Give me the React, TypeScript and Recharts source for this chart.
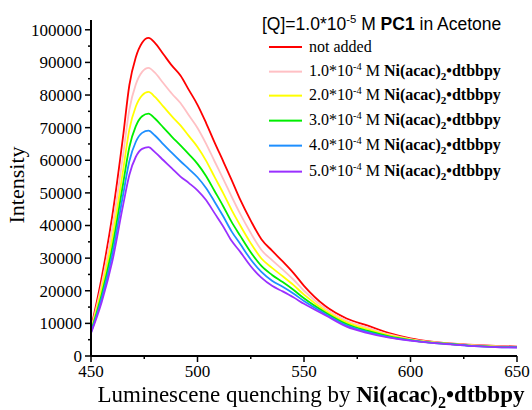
import { LineChart, Line, XAxis, YAxis } from "recharts"

const wavelengths = [450, 455, 460, 465, 468, 471, 474, 477, 480, 484, 488, 492, 496, 500, 504, 508, 512, 516, 520, 525, 530, 535, 540, 545, 550, 560, 570, 580, 590, 600, 610, 620, 630, 640, 650]

const notAdded = [8500, 24000, 43000, 67000, 83000, 91500, 96000, 97500, 96000, 92500, 89000, 86000, 81500, 77000, 71500, 65500, 59800, 54000, 48000, 41500, 35800, 32300, 29000, 25500, 21500, 15300, 11500, 9300, 7000, 5400, 4400, 3800, 3400, 3100, 2900]
const ni10 = [8200, 21950, 39200, 61300, 75500, 83200, 87100, 88350, 86850, 83600, 80400, 77550, 73700, 69900, 65100, 59700, 54400, 48900, 43650, 37700, 32500, 29400, 26500, 23450, 20000, 14550, 10800, 8700, 6600, 5200, 4300, 3700, 3300, 3000, 2800]
const ni20 = [7800, 20300, 36100, 56600, 69400, 76400, 79900, 80950, 79450, 76450, 73450, 70700, 67400, 64100, 59900, 54900, 50000, 44800, 40100, 34600, 29900, 27000, 24450, 21800, 18800, 13900, 10300, 8150, 6300, 5050, 4200, 3650, 3200, 2900, 2750]
const ni30 = [7500, 18800, 33300, 52500, 64000, 70400, 73500, 74300, 72800, 70000, 67200, 64550, 61800, 58900, 55200, 50600, 46000, 41100, 36900, 31800, 27600, 24850, 22650, 20300, 17700, 13350, 9800, 7700, 6050, 4900, 4100, 3600, 3100, 2800, 2700]
const ni40 = [7200, 17630, 31100, 49200, 59700, 65600, 68400, 69100, 67600, 64900, 62250, 59700, 57300, 54800, 51500, 47300, 42900, 38200, 34400, 29600, 25800, 23100, 21200, 19150, 16850, 12900, 9400, 7350, 5800, 4800, 4050, 3550, 3050, 2750, 2650]
const ni50 = [7000, 16500, 29000, 46000, 55500, 61000, 63500, 64000, 62500, 60000, 57500, 55000, 53000, 50800, 47800, 43800, 39800, 35300, 32000, 27500, 24000, 21500, 19800, 18000, 16000, 12500, 9000, 7000, 5600, 4700, 4000, 3500, 3000, 2700, 2600]

const seriesKeys = ["s0", "s1", "s2", "s3", "s4", "s5"]
const seriesColors = ["#ff0000", "#ffc0c4", "#ffff00", "#00ee00", "#1e8fff", "#9a30ff"]
const concentrations = ["1.0", "2.0", "3.0", "4.0", "5.0"]

const xTicks = [450, 475, 500, 525, 550, 575, 600, 625, 650]
const yTicks = [0, 5000, 10000, 15000, 20000, 25000, 30000, 35000, 40000, 45000, 50000, 55000, 60000, 65000, 70000, 75000, 80000, 85000, 90000, 95000, 100000]

const data = wavelengths.map((w, i) => ({
  w,
  s0: notAdded[i],
  s1: ni10[i],
  s2: ni20[i],
  s3: ni30[i],
  s4: ni40[i],
  s5: ni50[i],
}))

const serif = "'Liberation Serif', 'Times New Roman', serif"
const sans = "'Liberation Sans', Arial, sans-serif"

const YTick = (props: any) => {
  const { x, y, payload } = props
  const major = payload.value % 10000 === 0
  return (
    <g>
      <line x1={x} x2={x - (major ? 6 : 3)} y1={y} y2={y} stroke="#000" strokeWidth={1.5} />
      {major && (
        <text x={x - 9} y={y} dy="0.35em" textAnchor="end" fontSize={17} fontFamily={serif} fill="#000">
          {payload.value}
        </text>
      )}
    </g>
  )
}

const XTick = (props: any) => {
  const { x, y, payload } = props
  const major = payload.value % 50 === 0
  return (
    <g>
      <line x1={x} x2={x} y1={y} y2={y + (major ? 6 : 3)} stroke="#000" strokeWidth={1.5} />
      {major && (
        <text x={x} y={y + 21} textAnchor="middle" fontSize={17} fontFamily={serif} fill="#000">
          {payload.value}
        </text>
      )}
    </g>
  )
}

const NiName = () => (
  <b>
    Ni(acac)<sub style={{ fontSize: "0.7em" }}>2</sub>•dtbbpy
  </b>
)

export default function App() {
  const rowTop = [47, 72, 96, 121, 146, 172]
  return (
    <div style={{ position: "fixed", left: 0, top: 0, width: 532, height: 410, background: "#fff" }}>
      <LineChart width={532} height={410} data={data} margin={{ top: 20, right: 15, left: 0, bottom: 0 }}>
        <XAxis
          dataKey="w"
          type="number"
          domain={[450, 650]}
          ticks={xTicks}
          interval={0}
          tickSize={0}
          tickMargin={0}
          tickLine={false}
          tick={<XTick />}
          height={54}
          stroke="#000"
          strokeWidth={2}
        />
        <YAxis
          type="number"
          domain={[0, 103000]}
          ticks={yTicks}
          interval={0}
          tickSize={0}
          tickMargin={0}
          tickLine={false}
          tick={<YTick />}
          width={91}
          stroke="#000"
          strokeWidth={2}
        />
        {seriesKeys.map((k, i) => (
          <Line
            key={k}
            type="monotone"
            dataKey={k}
            stroke={seriesColors[i]}
            strokeWidth={1.8}
            dot={false}
            isAnimationActive={false}
          />
        ))}
      </LineChart>

      <div
        style={{
          position: "absolute",
          left: 17,
          top: 185,
          transform: "translate(-50%, -50%) rotate(-90deg)",
          fontFamily: serif,
          fontSize: 22,
          whiteSpace: "nowrap",
        }}
      >
        Intensity
      </div>

      <div
        style={{
          position: "absolute",
          left: 311,
          top: 397,
          transform: "translate(-50%, -50%)",
          fontFamily: serif,
          fontSize: 23,
          whiteSpace: "nowrap",
          lineHeight: 1,
        }}
      >
        Luminescene quenching by <NiName />
      </div>

      <div
        style={{
          position: "absolute",
          left: 262,
          top: 24,
          transform: "translateY(-50%)",
          fontFamily: sans,
          fontSize: 17.5,
          whiteSpace: "nowrap",
          lineHeight: 1,
        }}
      >
        [Q]=1.0*10<sup style={{ fontSize: "0.65em" }}>-5</sup> M <b>PC1</b> in Acetone
      </div>

      {rowTop.map((t, i) => (
        <div
          key={i}
          style={{
            position: "absolute",
            left: 269,
            top: t,
            transform: "translateY(-50%)",
            display: "flex",
            alignItems: "center",
            fontFamily: serif,
            fontSize: 16,
            whiteSpace: "nowrap",
            lineHeight: 1,
          }}
        >
          <span style={{ display: "inline-block", width: 33, height: 2, background: seriesColors[i], marginRight: 7 }} />
          {i === 0 ? (
            <span>not added</span>
          ) : (
            <span>
              {concentrations[i - 1]}*10<sup style={{ fontSize: "0.65em" }}>-4</sup> M <NiName />
            </span>
          )}
        </div>
      ))}
    </div>
  )
}
